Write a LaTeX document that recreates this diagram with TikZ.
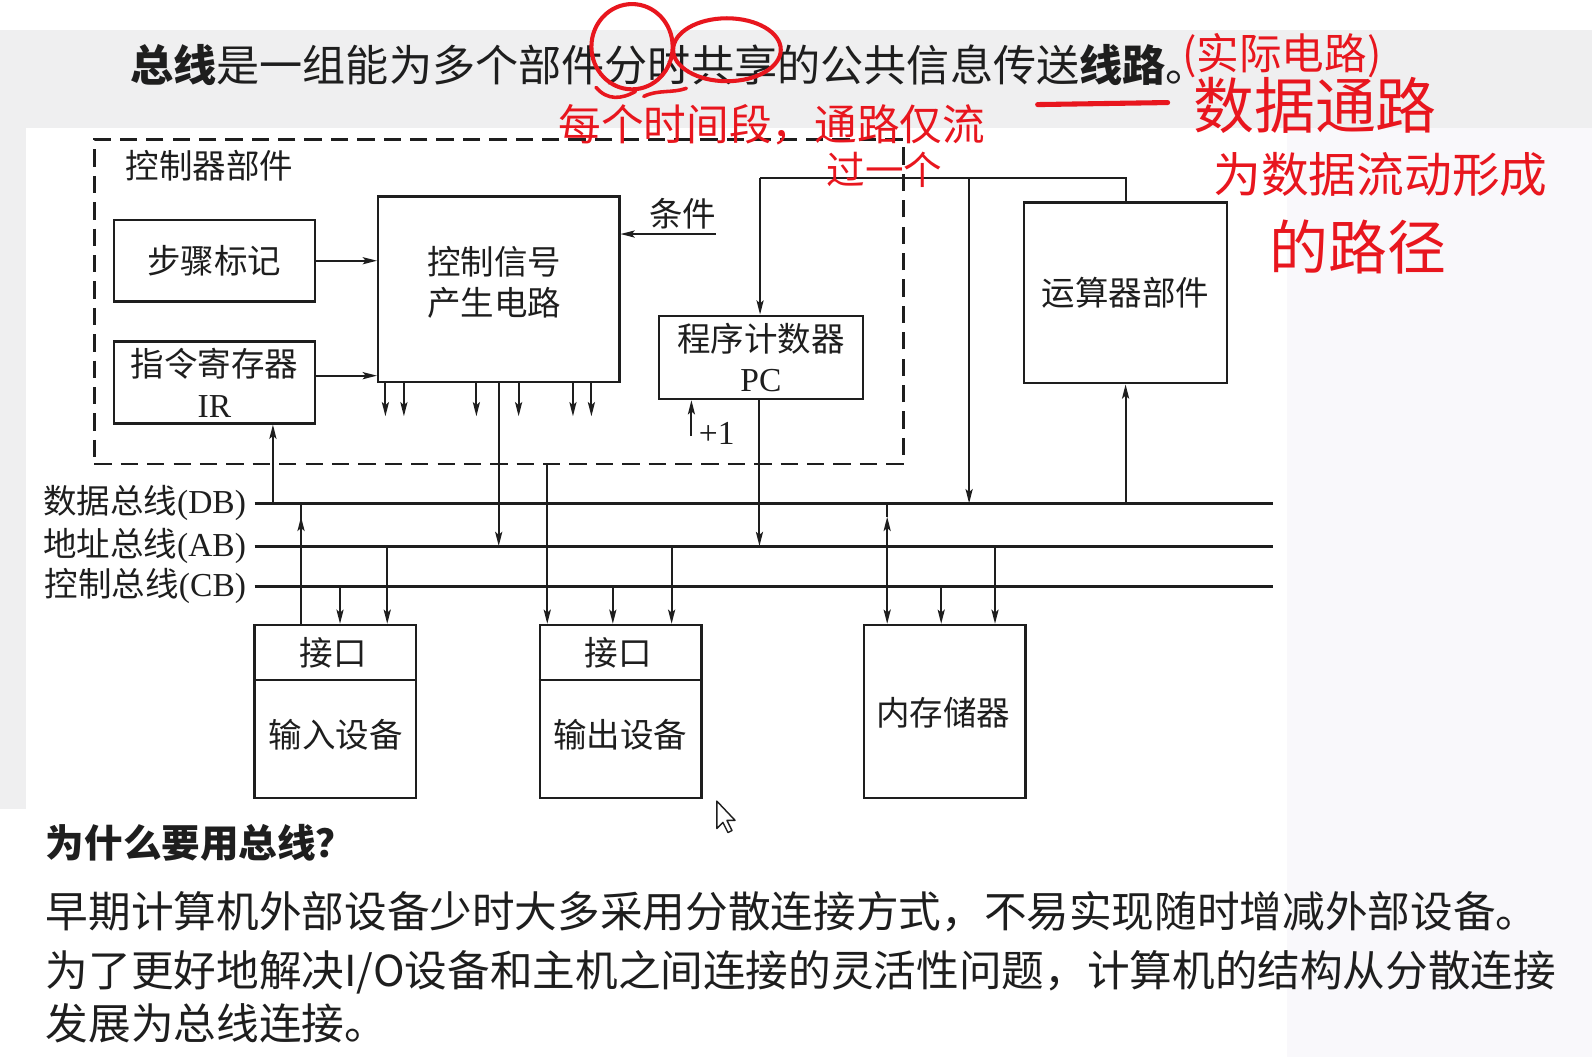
\documentclass[tikz,border=0pt]{standalone}
\usepackage{fontspec}
\setmainfont{Noto Sans CJK SC}
\newfontfamily\lat{Liberation Serif}
\usetikzlibrary{arrows.meta,calc}
\definecolor{band}{HTML}{EFEFF0}
\definecolor{side}{HTML}{F9F8FB}
\definecolor{pen}{HTML}{E8161E}
\definecolor{ink}{HTML}{1E1E1E}
\newcommand\dgfont{\fontsize{33}{40}\selectfont}
\begin{document}
\begin{tikzpicture}[x=1pt,y=-1pt,
  box/.style={draw=ink, line width=2.4pt, inner sep=0pt, font=\dgfont, align=center, text=ink},
  lbl/.style={font=\dgfont, align=center, text=ink, inner sep=0pt},
  wire/.style={draw=ink, line width=1.9pt},
  arr/.style={wire, -{Stealth[length=14pt,width=7pt,inset=3pt]}},
  bus/.style={draw=ink, line width=3pt},
  hand/.style={text=pen, inner sep=0pt, anchor=west},
  redline/.style={draw=pen, line width=4pt, line cap=round}
  ]
\useasboundingbox (0,0) rectangle (1568,1041);
% backgrounds
\fill[side] (0,0) rectangle (1568,1041);
\fill[white] (0,0) rectangle (1568,29.5);
\fill[band] (0,29.5) rectangle (1568,126);
\fill[band] (0,126) rectangle (26,797);
\fill[white] (26,126) rectangle (1268,797);
\fill[white] (0,797) rectangle (1268,1041);

% title
\node[anchor=west, inner sep=0pt, text=ink, font=\fontsize{42.5}{50}\selectfont] (title) at (128,64)
  {\textbf{总线}是一组能为多个部件分时共享的公共信息传送\textbf{线路}。};

% control unit (dashed)
\node[draw=ink, line width=2.4pt, dash pattern=on 17pt off 9pt, minimum width=797.1, minimum height=319.8, inner sep=0pt] (cu) at (491.45,297.1) {};
\node[lbl] (cut) at (206.5,163) {控制器部件};

\node[box, minimum width=197.7, minimum height=80.3] (step) at (211.2,256.8) {步骤标记};
\node[box, minimum width=197.7, minimum height=80.5] (ir) at (211.2,376.8) {指令寄存器\\{\lat IR}};
\node[box, minimum width=237.5, minimum height=182.3] (ctrl) at (491.2,284.9) {};
\node[lbl] (ctrlt) at (487,278) {控制信号\\产生电路};
\node[box, minimum width=201, minimum height=82] (pc) at (749.5,352) {程序计数器\\{\lat PC}};
\node[box, minimum width=199.7, minimum height=177.9] (alu) at (1108.6,288.5) {运算器部件};

% buses
\coordinate (dbL) at (250.7,495.7); \coordinate (dbR) at (1253.6,495.7);
\coordinate (abL) at (250.7,537.8); \coordinate (abR) at (1253.6,537.8);
\coordinate (cbL) at (250.7,577.2); \coordinate (cbR) at (1253.6,577.2);
\draw[bus] (dbL) -- (dbR);
\draw[bus] (abL) -- (abR);
\draw[bus] (cbL) -- (cbR);
\node[lbl, anchor=east] (dbt) at (242.5,495.7) {数据总线{\lat (DB)}};
\node[lbl, anchor=east] (abt) at (242.5,537.8) {地址总线{\lat (AB)}};
\node[lbl, anchor=east] (cbt) at (242.5,577.2) {控制总线{\lat (CB)}};

% devices
\node[box, minimum width=158.9, minimum height=170.4] (in) at (330.2,700.8) {};
\draw[wire, line width=2.4pt] (in.west |- 0,669.8) -- (in.east |- 0,669.8);
\node[lbl] (inif) at (328,643) {接口};
\node[lbl] (indev) at (330.8,724) {输入设备};
\node[box, minimum width=159.3, minimum height=170.4] (out) at (611.3,700.8) {};
\draw[wire, line width=2.4pt] (out.west |- 0,669.8) -- (out.east |- 0,669.8);
\node[lbl] (outif) at (609,643) {接口};
\node[lbl] (outdev) at (611,724) {输出设备};
\node[box, minimum width=159, minimum height=170.4] (mem) at (930.5,700.8) {};
\node[lbl] (memt) at (929,702) {内存储器};

% control unit connections
\draw[arr] (step.east) -- (step.east -| ctrl.west);
\draw[arr] (310,370 -| ir.east) -- (ctrl.west |- 0,370);
\coordinate (condR) at (705,230.5);
\draw[arr] (condR) -- (condR -| ctrl.east);
\node[lbl] (cond) at (672.5,211) {条件};
\foreach \xx in {379.6,397.8,469.2,510.8,564.3,582.5}
  \draw[arr] (\xx,0 |- ctrl.south) -- (\xx,410);
\draw[arr] (ctrl.south) -- (ctrl.south |- abL);
\draw[arr] (268.8,0 |- dbL) -- (268.8,0 |- ir.south);
\draw[arr] (539,0 |- cu.south) -- (539,0 |- out.north);

% PC / ALU wiring
\coordinate (tw1) at (748.6,175.6);
\coordinate (tj) at (954.5,175.6);
\draw[wire] (alu.north) |- (tw1);
\draw[arr] (tw1) -- (tw1 |- pc.north);
\draw[arr] (tj) -- (tj |- dbL);
\draw[arr] (alu.south |- dbL) -- (alu.south);
\draw[arr] (748,0 |- pc.south) -- (748,0 |- abL);
\coordinate (inc) at (681,429.5);
\draw[arr] (inc) -- (inc |- pc.south);
\node[lbl, font=\fontsize{33}{40}\selectfont\lat] (plus) at (706,426.5) {+1};

% input device
\draw[wire] (296.5,0 |- in.north) -- (296.5,0 |- dbL);
\draw[arr] (296.5,0 |- in.north) -- (296.5,509);
\draw[arr] (334.9,0 |- cbL) -- (334.9,0 |- in.north);
\draw[arr] (381.4,0 |- abL) -- (381.4,0 |- in.north);
% output device
\draw[arr] (603.6,0 |- cbL) -- (603.6,0 |- out.north);
\draw[arr] (661.5,0 |- abL) -- (661.5,0 |- out.north);
% memory
\draw[wire] (873.8,0 |- dbL) -- (873.8,509);
\draw[wire, {Stealth[length=14pt,width=7pt,inset=3pt]}-{Stealth[length=14pt,width=7pt,inset=3pt]}] (873.8,509) -- (873.8,0 |- mem.north);
\draw[arr] (927,0 |- cbL) -- (927,0 |- mem.north);
\draw[arr] (980,0 |- abL) -- (980,0 |- mem.north);

% bottom text
\node[anchor=west, inner sep=0pt, text=ink, font=\fontsize{38}{44}\selectfont\bfseries] (why) at (45,830) {为什么要用总线？};
\node[anchor=west, inner sep=0pt, text=ink, font=\fontsize{42}{50}\selectfont] (p1) at (45,898) {早期计算机外部设备少时大多采用分散连接方式，不易实现随时增减外部设备。};
\node[anchor=west, inner sep=0pt, text=ink, font=\fontsize{42}{50}\selectfont] (p2) at (45,958) {为了更好地解决I/O设备和主机之间连接的灵活性问题，计算机的结构从分散连接};
\node[anchor=west, inner sep=0pt, text=ink, font=\fontsize{42}{50}\selectfont] (p3) at (45,1008) {发展为总线连接。};

% cursor
\draw[ink, fill=white, line width=1.4pt, line join=round] (706,789) -- ++(0,27) -- ++(6,-6) -- ++(5,10) -- ++(4,-2) -- ++(-5,-10) -- ++(8,0) -- cycle;

% red handwriting
\draw[redline] (622.5,46) ellipse [x radius=40, y radius=42];
\draw[redline] (716,49) ellipse [x radius=53, y radius=31];
\draw[redline, line width=3.5pt] (587,86) .. controls (598,99) and (612,98) .. (626,90);
\draw[redline, line width=3.5pt] (634,95) .. controls (648,88) and (662,92) .. (676,87);
\draw[redline, line width=5pt] (1022,103) -- (1150,101);
\node[hand, font=\fontsize{42}{42}\selectfont] (h1) at (1164,55) {(实际电路)};
\node[hand, font=\fontsize{42}{42}\selectfont] (h2) at (550,123) {每个时间段，通路仅流};
\node[hand, font=\fontsize{38}{38}\selectfont] (h3) at (814,167) {过一个};
\node[hand, font=\fontsize{60}{60}\selectfont] (h4) at (1175,104) {数据通路};
\node[hand, font=\fontsize{47}{47}\selectfont] (h5) at (1195,172) {为数据流动形成};
\node[hand, font=\fontsize{58}{58}\selectfont] (h6) at (1250,243) {的路径};
\end{tikzpicture}
\end{document}
